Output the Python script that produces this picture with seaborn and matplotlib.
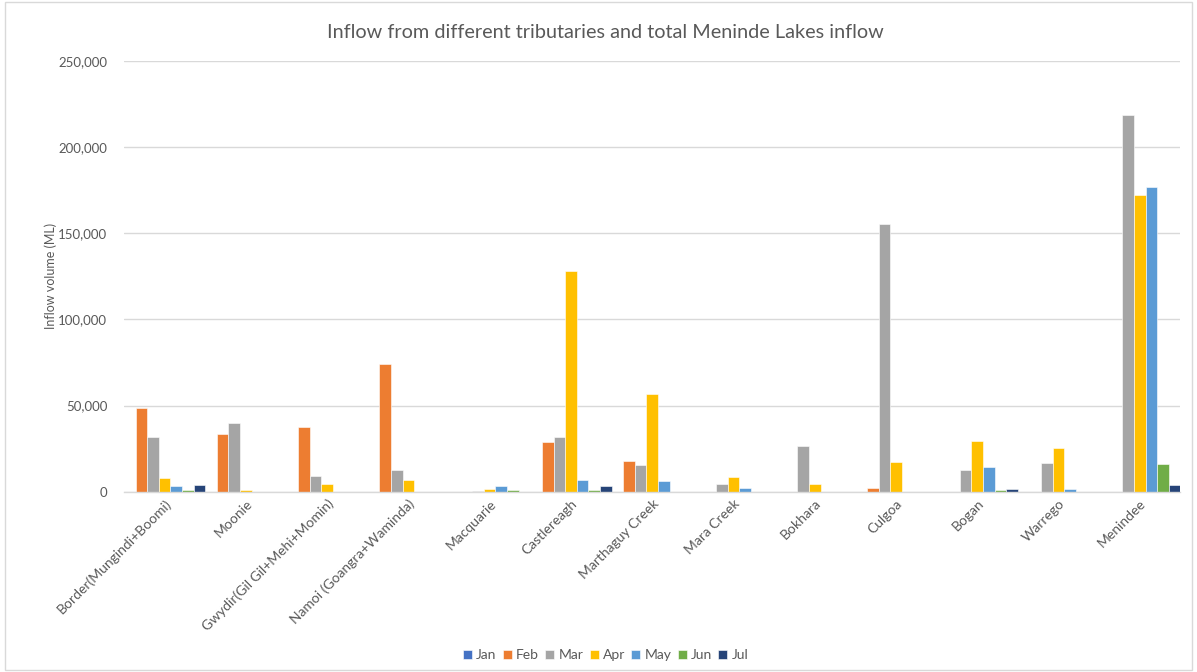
import matplotlib
matplotlib.use("Agg")
import matplotlib.pyplot as plt
from matplotlib.patches import Rectangle
from matplotlib.ticker import FuncFormatter
import seaborn as sns
import pandas as pd

# Monthly inflow volumes (ML) per tributary
sites = [
    "Border(Mungindi+Boomi)", "Moonie", "Gwydir(Gil Gil+Mehi+Momin)",
    "Namoi (Goangra+Waminda)", "Macquarie", "Castlereagh", "Marthaguy Creek",
    "Mara Creek", "Bokhara", "Culgoa", "Bogan", "Warrego", "Menindee",
]
months = ["Jan", "Feb", "Mar", "Apr", "May", "Jun", "Jul"]

jan = [0, 0, 0, 0, 0, 0, 0, 0, 0, 0, 0, 0, 0]
feb = [48500, 33300, 37600, 74200, 0, 29000, 18000, 0, 0, 2100, 0, 0, 0]
mar = [32000, 40100, 8900, 12800, 300, 32000, 15700, 4200, 26300, 155700, 12800, 16600, 218600]
apr = [7700, 900, 4400, 7000, 1300, 128200, 56600, 8500, 4600, 17300, 29200, 25600, 172000]
may = [3100, 0, 0, 0, 3100, 6600, 6000, 2100, 0, 0, 14300, 1300, 177000]
jun = [900, 0, 0, 0, 900, 900, 0, 0, 0, 0, 900, 0, 16000]
jul = [3700, 0, 0, 0, 0, 3100, 0, 0, 0, 0, 1300, 0, 3700]

palette = ["#4472C4", "#ED7D31", "#A5A5A5", "#FFC000", "#5B9BD5", "#70AD47", "#264478"]

wide = pd.DataFrame({"Site": sites, "Jan": jan, "Feb": feb, "Mar": mar, "Apr": apr,
                     "May": may, "Jun": jun, "Jul": jul})
long = wide.melt(id_vars="Site", var_name="Month", value_name="Inflow")

sns.set_theme(style="white")
plt.rcParams["font.family"] = ["Lato", "DejaVu Sans"]
text_color = "#595959"

fig = plt.figure(figsize=(11.97, 6.72), dpi=100)
ax = fig.add_axes([0.1036, 0.2683, 0.8825, 0.6408])

sns.barplot(data=long, x="Site", y="Inflow", hue="Month", hue_order=months,
            order=sites, palette=palette, width=1.0, gap=0, saturation=1,
            edgecolor="white", linewidth=0.4, errorbar=None, ax=ax)

ax.set_ylim(0, 250000)
ax.set_xlim(-0.5, len(sites) - 0.5)
ax.set_yticks(range(0, 250001, 50000))
ax.yaxis.set_major_formatter(FuncFormatter(lambda v, p: f"{int(v):,}"))
ax.grid(axis="y", color="#D9D9D9", linewidth=1)
ax.set_axisbelow(True)
for s in ["top", "right", "left"]:
    ax.spines[s].set_visible(False)
ax.spines["bottom"].set_color("#D9D9D9")
ax.spines["bottom"].set_linewidth(1)
ax.tick_params(axis="both", length=0, colors=text_color)
ax.tick_params(axis="y", pad=12, labelsize=9.5)
ax.tick_params(axis="x", pad=4, labelsize=10)
plt.setp(ax.get_xticklabels(), rotation=45, ha="right", rotation_mode="anchor")

ax.set_xlabel("")
ax.set_ylabel("Inflow volume (ML)", color=text_color, fontsize=9, labelpad=1)
fig.text(0.506, 0.951, "Inflow from different tributaries and total Meninde Lakes inflow",
         color=text_color, fontsize=14.3, ha="center", va="center")

handles, labels = ax.get_legend_handles_labels()
ax.get_legend().remove()
leg = fig.legend(handles, labels, loc="center", bbox_to_anchor=(0.506, 0.025), ncol=7,
                 frameon=False, fontsize=10, handlelength=0.65, handleheight=0.65,
                 handletextpad=0.3, columnspacing=0.45)
for t in leg.get_texts():
    t.set_color(text_color)

fig.patches.append(Rectangle((0.004, 0.003), 0.992, 0.994, transform=fig.transFigure,
                             fill=False, edgecolor="#D9D9D9", linewidth=1))

fig.savefig("out.png", dpi=100)
